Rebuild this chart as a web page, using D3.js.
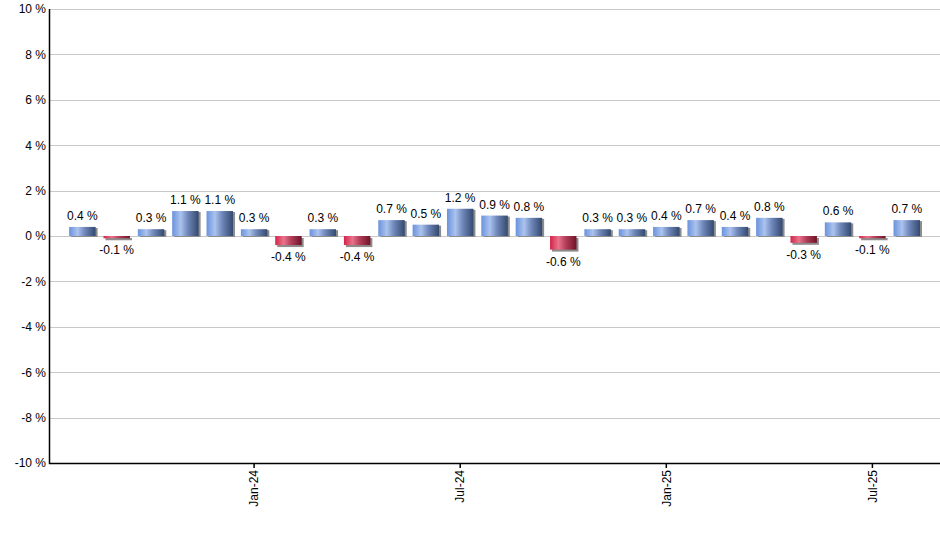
<!DOCTYPE html>
<html>
<head>
<meta charset="utf-8">
<script src="https://cdn.jsdelivr.net/npm/d3@7"></script>
<style>
  body { margin: 0; background: #fff; }
  svg { display: block; font-family: "Liberation Sans", Arial, sans-serif; }
</style>
</head>
<body>
<svg id="chart" width="940" height="550"></svg>
<script>
const months = ["Aug-23","Sep-23","Oct-23","Nov-23","Dec-23","Jan-24","Feb-24","Mar-24","Apr-24","May-24","Jun-24","Jul-24","Aug-24","Sep-24","Oct-24","Nov-24","Dec-24","Jan-25","Feb-25","Mar-25","Apr-25","May-25","Jun-25","Jul-25","Aug-25"];
const values = [0.4,-0.1,0.3,1.1,1.1,0.3,-0.4,0.3,-0.4,0.7,0.5,1.2,0.9,0.8,-0.6,0.3,0.3,0.4,0.7,0.4,0.8,-0.3,0.6,-0.1,0.7];
const xTickLabels = ["Jan-24","Jul-24","Jan-25","Jul-25"];
const yTicks = [-10,-8,-6,-4,-2,0,2,4,6,8,10];

const svg = d3.select("#chart");
const mLeft = 49, mTop = 9, mBottom = 463, mRight = 940;
const step = 34.35;
const x0 = mLeft + step / 2 - 1;

const x = d3.scaleBand().domain(months)
  .range([x0, x0 + step * months.length])
  .paddingInner(0.23).paddingOuter(0.115);
const y = d3.scaleLinear().domain([-10, 10]).range([mBottom, mTop]);

const defs = svg.append("defs");
function grad(id, stops) {
  const g = defs.append("linearGradient").attr("id", id)
    .attr("x1", "0%").attr("x2", "100%").attr("y1", "0%").attr("y2", "0%");
  stops.forEach(s => g.append("stop").attr("offset", s[0]).attr("stop-color", s[1]));
}
grad("gBlue", [["0%", "#6a92dc"], ["32%", "#abc3ee"], ["60%", "#6e86b8"], ["100%", "#33496f"]]);
grad("gRed", [["0%", "#d32449"], ["32%", "#e9738b"], ["60%", "#b23d58"], ["100%", "#6e1328"]]);

// gridlines
svg.append("g").selectAll("line").data(yTicks).join("line")
  .attr("x1", mLeft).attr("x2", mRight)
  .attr("y1", d => Math.round(y(d)) + 0.5).attr("y2", d => Math.round(y(d)) + 0.5)
  .attr("stroke", "#c8c8c8").attr("stroke-width", 1);

// y axis
const yAxis = d3.axisLeft(y).tickValues(yTicks).tickSize(0).tickPadding(3)
  .tickFormat(d => d + " %");
const yg = svg.append("g").attr("transform", `translate(${mLeft},0)`).call(yAxis);
yg.select(".domain").remove();
yg.selectAll("text").attr("font-size", 12).attr("fill", "#000")
  .attr("font-family", "'Liberation Sans', Arial, sans-serif");

// bars with shadow
const bars = svg.append("g");
const data = months.map((m, i) => ({ m, v: values[i] }));
bars.selectAll("rect.shadow").data(data).join("rect").attr("class", "shadow")
  .attr("x", d => x(d.m) + 2)
  .attr("y", d => d.v >= 0 ? y(d.v) + 1 : y(0) + 2)
  .attr("width", x.bandwidth())
  .attr("height", d => Math.abs(y(d.v) - y(0)))
  .attr("fill", "#8c8c8c");
bars.selectAll("rect.bar").data(data).join("rect").attr("class", "bar")
  .attr("x", d => x(d.m))
  .attr("y", d => d.v >= 0 ? y(d.v) : y(0))
  .attr("width", x.bandwidth())
  .attr("height", d => Math.abs(y(d.v) - y(0)))
  .attr("fill", d => d.v >= 0 ? "url(#gBlue)" : "url(#gRed)");

// value labels
svg.append("g").selectAll("text").data(data).join("text")
  .attr("x", d => x(d.m) + x.bandwidth() / 2)
  .attr("y", d => d.v >= 0 ? y(d.v) - 7 : y(d.v) + 16)
  .attr("text-anchor", "middle")
  .attr("font-size", 12).attr("fill", "#000")
  .text(d => d.v.toFixed(1) + " %");

// axes lines
svg.append("line").attr("x1", mLeft + 0.5).attr("x2", mLeft + 0.5).attr("y1", mTop).attr("y2", mBottom + 1)
  .attr("stroke", "#000").attr("stroke-width", 1.5);
svg.append("line").attr("x1", mLeft).attr("x2", mRight).attr("y1", mBottom + 0.5).attr("y2", mBottom + 0.5)
  .attr("stroke", "#000").attr("stroke-width", 1.5);

// x axis ticks
const xAxis = d3.axisBottom(x).tickValues(xTickLabels).tickSize(5).tickPadding(3);
const xg = svg.append("g").attr("transform", `translate(0,${mBottom})`).call(xAxis);
xg.select(".domain").remove();
xg.selectAll("line").attr("stroke", "#000").attr("stroke-width", 1.5);
xg.selectAll("text")
  .attr("font-size", 12).attr("fill", "#000")
  .attr("font-family", "'Liberation Sans', Arial, sans-serif")
  .attr("transform", "rotate(-90)")
  .attr("text-anchor", "end")
  .attr("x", -7).attr("y", 0).attr("dy", "0.35em");
</script>
</body>
</html>
